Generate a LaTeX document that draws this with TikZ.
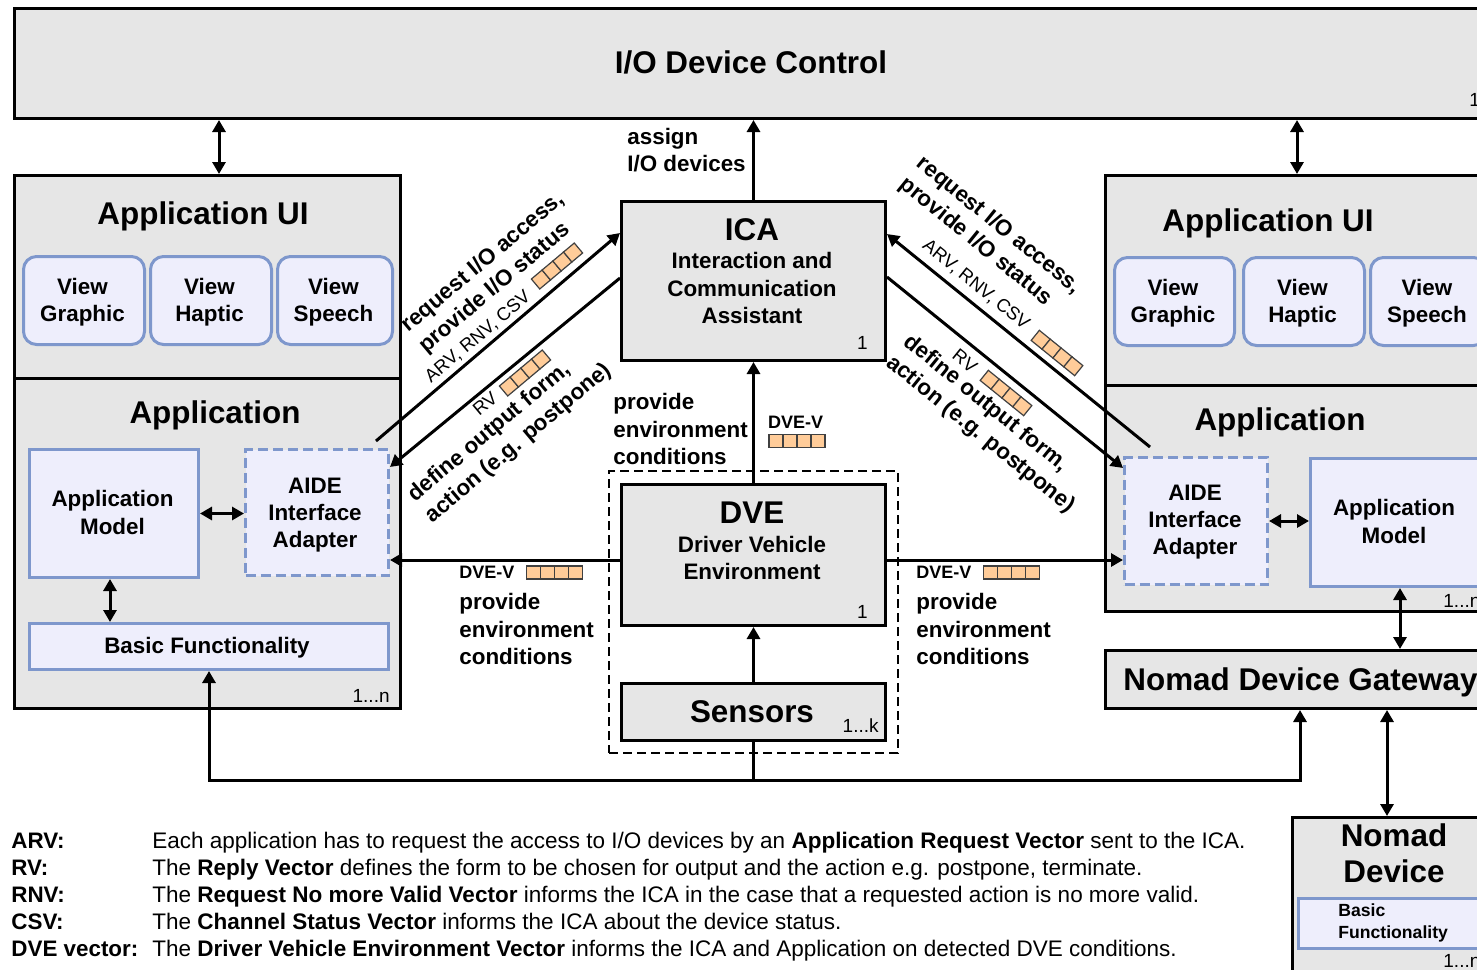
\documentclass[tikz,border=0pt]{standalone}
\usepackage{fontspec}
\setmainfont{Liberation Sans}
\usetikzlibrary{arrows.meta,calc}

\definecolor{boxgray}{RGB}{230,230,230}
\definecolor{uiblue}{RGB}{126,151,204}
\definecolor{uifill}{RGB}{238,238,252}
\definecolor{vecorange}{RGB}{255,204,153}

\tikzset{
  graybox/.style={draw, line width=1.5pt, fill=boxgray, inner sep=0pt, anchor=north west},
  bluebox/.style={draw=uiblue, line width=1.5pt, fill=uifill, inner sep=0pt, anchor=north west},
  viewbox/.style={bluebox, rounded corners=6.5pt},
  aidebox/.style={bluebox, dash pattern=on 5pt off 2.5pt},
  ttl/.style={font=\bfseries\fontsize{15.7}{18}\selectfont, inner sep=0pt, anchor=base},
  txt/.style={font=\bfseries\fontsize{11.2}{13.6}\selectfont, inner sep=0pt, align=center},
  lbl/.style={font=\bfseries\fontsize{11.2}{13.6}\selectfont, inner sep=0pt, align=left},
  cnt/.style={font=\fontsize{9.5}{11}\selectfont, inner sep=0pt, anchor=base east},
  tag/.style={font=\fontsize{9.2}{11}\selectfont, inner sep=0pt},
  tagb/.style={font=\bfseries\fontsize{9}{11}\selectfont, inner sep=0pt},
  legkey/.style={font=\bfseries\fontsize{11.2}{13.5}\selectfont, inner sep=0pt, anchor=base west},
  legtxt/.style={font=\fontsize{11.25}{13.5}\selectfont, inner sep=0pt, anchor=base west},
  arr/.style={line width=1.5pt, -{Triangle[length=6pt,width=6.5pt]}},
  dbl/.style={line width=1.5pt, {Triangle[length=6pt,width=6.5pt]}-{Triangle[length=6pt,width=6.5pt]}},
  vecbox/.pic={
    \foreach \i in {0,...,3}
      \draw[fill=vecorange, draw=black!75, line width=0.6pt] (-14pt+\i*7pt,-3.25pt) rectangle ++(7pt,6.5pt);
  }
}

\begin{document}
\begin{tikzpicture}[x=0.5pt, y=-0.5pt]
\useasboundingbox (0,0) rectangle (1477,969);
\clip (0,0) rectangle (1477,969);

% I/O device control
\node[graybox, minimum width=743.5pt, minimum height=55pt] (iodc) at (13,7) {};
\node[ttl] (iodcname) at (751,73) {I/O Device Control};
\node[cnt, anchor=base west] (iodcnum) at (1469,106) {1};

% left application
\node[graybox, minimum width=193pt, minimum height=101.5pt] (appui1) at (13,174) {};
\node[graybox, minimum width=193pt, minimum height=165pt] (app1) at (13,377) {};
\node[ttl] (appui1name) at (203,224) {Application UI};
\node[ttl] (app1name) at (215,423) {Application};
\node[viewbox, minimum width=60.5pt, minimum height=44pt] (vg1) at (22,255) {};
\node[viewbox, minimum width=60.5pt, minimum height=44pt] (vh1) at (149,255) {};
\node[viewbox, minimum width=57.5pt, minimum height=44pt] (vs1) at (276,255) {};
\node[txt] (vg1name) at (82.5,302) {View\\Graphic};
\node[txt] (vh1name) at (209.5,302) {View\\Haptic};
\node[txt] (vs1name) at (333.5,302) {View\\Speech};
\node[bluebox, minimum width=84.5pt, minimum height=64pt] (model1) at (28,448) {};
\node[aidebox, minimum width=71.5pt, minimum height=63pt] (aide1) at (244,448) {};
\node[bluebox, minimum width=179.5pt, minimum height=23pt] (basic1) at (28,622) {};
\node[txt] (model1name) at (112.5,512.5) {Application\\Model};
\node[txt] (aide1name) at (315,515) {AIDE\\Interface\\Adapter};
\node[txt] (basic1name) at (207,647.5) {Basic Functionality};
\node[cnt] (app1num) at (390,702) {1...n};

% right application
\node[graybox, minimum width=200pt, minimum height=105pt] (appui2) at (1104,174) {};
\node[graybox, minimum width=200pt, minimum height=113pt] (app2) at (1104,384) {};
\node[ttl] (appui2name) at (1268,231) {Application UI};
\node[ttl] (app2name) at (1280,430) {Application};
\node[viewbox, minimum width=60pt, minimum height=44pt] (vg2) at (1113,256) {};
\node[viewbox, minimum width=60.5pt, minimum height=44pt] (vh2) at (1242,256) {};
\node[viewbox, minimum width=58pt, minimum height=44pt] (vs2) at (1369,256) {};
\node[txt] (vg2name) at (1173,303) {View\\Graphic};
\node[txt] (vh2name) at (1302.5,303) {View\\Haptic};
\node[txt] (vs2name) at (1427,303) {View\\Speech};
\node[aidebox, minimum width=71.5pt, minimum height=63.5pt] (aide2) at (1123,456) {};
\node[bluebox, minimum width=95pt, minimum height=64pt] (model2) at (1309,457) {};
\node[txt] (aide2name) at (1195,522) {AIDE\\Interface\\Adapter};
\node[txt] (model2name) at (1394,521.5) {Application\\Model};
\node[cnt, anchor=base west] (app2num) at (1443,607) {1...n};

% gateway and nomad device
\node[graybox, minimum width=200pt, minimum height=29pt] (gateway) at (1104,649) {};
\node[ttl, anchor=base west] (gatewayname) at (1123,690) {Nomad Device Gateway};
\node[graybox, minimum width=200pt, minimum height=90pt] (nomad) at (1291,816) {};
\node[ttl, align=center, anchor=center] (nomadname) at (1394,853) {Nomad\\Device};
\node[bluebox, minimum width=100pt, minimum height=25pt] (basic2) at (1297,897) {};
\node[lbl, font=\bfseries\fontsize{8.8}{11}\selectfont, anchor=west] (basic2name) at (1338,923) {Basic\\Functionality};
\node[cnt, anchor=base west] (nomadnum) at (1443,967) {1...n};

% ICA, DVE, sensors
\node[draw, line width=1pt, dash pattern=on 4.5pt off 2.5pt, inner sep=0pt, anchor=north west,
      minimum width=144.5pt, minimum height=141pt] (dvegroup) at (608,470) {};
\node[graybox, minimum width=132pt, minimum height=79.5pt] (ica) at (620,200) {};
\node[ttl] (icaname) at (752,240) {ICA};
\node[txt] (icasub) at (752,288) {Interaction and\\Communication\\Assistant};
\node[cnt] (icanum) at (868,349) {1};
\node[graybox, minimum width=132pt, minimum height=70.5pt] (dve) at (620,483) {};
\node[ttl] (dvename) at (752,523) {DVE};
\node[txt] (dvesub) at (752,558) {Driver Vehicle\\Environment};
\node[cnt] (dvenum) at (868,618) {1};
\node[graybox, minimum width=132pt, minimum height=28.5pt] (sensors) at (620,682) {};
\node[ttl] (sensorsname) at (752,722) {Sensors};
\node[cnt] (sensorsnum) at (879,732) {1...k};

% connectors
\draw[dbl] (iodc.south -| 219,0) -- (appui1.north -| 219,0);
\draw[dbl] (iodc.south -| 1297,0) -- (appui2.north -| 1297,0);
\draw[arr] (ica.north) -- (ica.north |- iodc.south);
\draw[arr] (dve.north) -- (ica.south);
\draw[arr] (sensors.north) -- (dve.south);
\draw[arr] (dve.west |- 0,560) -- (aide1.east |- 0,560);
\draw[arr] (dve.east |- 0,560) -- (aide2.west |- 0,560);
\draw[dbl] (model1.east) -- (aide1.west |- model1.east);
\draw[dbl] (model1.south -| 110,0) -- (basic1.north -| 110,0);
\draw[dbl] (aide2.east) -- (model2.west |- aide2.east);
\draw[dbl] (model2.south -| 1400,0) -- (gateway.north -| 1400,0);
\draw[dbl] (gateway.south -| 1387,0) -- (nomad.north -| 1387,0);
\coordinate (bus) at (sensors.south |- 0,780);
\draw[arr] (sensors.south) -- (bus) -| (basic1.south);
\draw[arr] (bus) -| (gateway.south -| 1300,0);
\draw[arr] ($(aide1.north east)+(-14,-7)$) -- (ica.west |- 0,233);
\draw[arr] (ica.west |- 0,278) -- (aide1.east |- 0,467);
\draw[arr] ($(aide2.north west)+(27,-9)$) -- (ica.east |- 0,234);
\draw[arr] (ica.east |- 0,277) -- (aide2.west |- 0,468);

% connector labels
\node[lbl, anchor=west] (assignlbl) at (627,150.5) {assign\\I/O devices};
\node[lbl, anchor=west] (envlbl) at (613,429) {provide\\environment\\conditions};
\node[tagb] (dvevlbl) at (795.5,422.5) {DVE-V};
\pic at (797,441) {vecbox};
\node[tagb, anchor=west] (dvevleft) at (459,572) {DVE-V};
\pic at (554.5,572.5) {vecbox};
\node[lbl, anchor=west] (envleft) at (459,629) {provide\\environment\\conditions};
\node[tagb, anchor=west] (dvevright) at (916,572) {DVE-V};
\pic at (1011.5,572.5) {vecbox};
\node[lbl, anchor=west] (envright) at (916,629) {provide\\environment\\conditions};

\node[lbl, rotate=40] (reqleft) at (492,273) {request I/O access,\\provide I/O status};
\node[tag, rotate=40] (arvleft) at (478,337) {ARV, RNV, CSV};
\pic[rotate=40] at (557,266) {vecbox};
\node[tag, rotate=40] (rvleft) at (485,404) {RV};
\pic[rotate=40] at (525,373) {vecbox};
\node[lbl, rotate=40] (defleft) at (510,433) {define output form,\\action (e.g. postpone)};

\node[lbl, rotate=-39] (reqright) at (990,236) {request I/O access,\\provide I/O status};
\node[tag, rotate=-39] (arvright) at (976,285) {ARV, RNV, CSV};
\pic[rotate=-39] at (1057,353) {vecbox};
\node[tag, rotate=-39] (rvright) at (965,361) {RV};
\pic[rotate=-39] at (1006,393) {vecbox};
\node[lbl, rotate=-39] (defright) at (989,424) {define output form,\\action (e.g. postpone)};

% legend
\node[legkey] (keyarv) at (11,848) {ARV:};
\node[legkey] (keyrv) at (11,875) {RV:};
\node[legkey] (keyrnv) at (11,902) {RNV:};
\node[legkey] (keycsv) at (11,929) {CSV:};
\node[legkey] (keydve) at (11,956) {DVE vector:};
\node[legtxt] (txtarv) at (152,848) {Each application has to request the access to I/O devices by an \textbf{Application Request Vector} sent to the ICA.};
\node[legtxt] (txtrv) at (152,875) {The \textbf{Reply Vector} defines the form to be chosen for output and the action e.g. postpone, terminate.};
\node[legtxt] (txtrnv) at (152,902) {The \textbf{Request No more Valid Vector} informs the ICA in the case that a requested action is no more valid.};
\node[legtxt] (txtcsv) at (152,929) {The \textbf{Channel Status Vector} informs the ICA about the device status.};
\node[legtxt] (txtdve) at (152,956) {The \textbf{Driver Vehicle Environment Vector} informs the ICA and Application on detected DVE conditions.};
\end{tikzpicture}
\end{document}
